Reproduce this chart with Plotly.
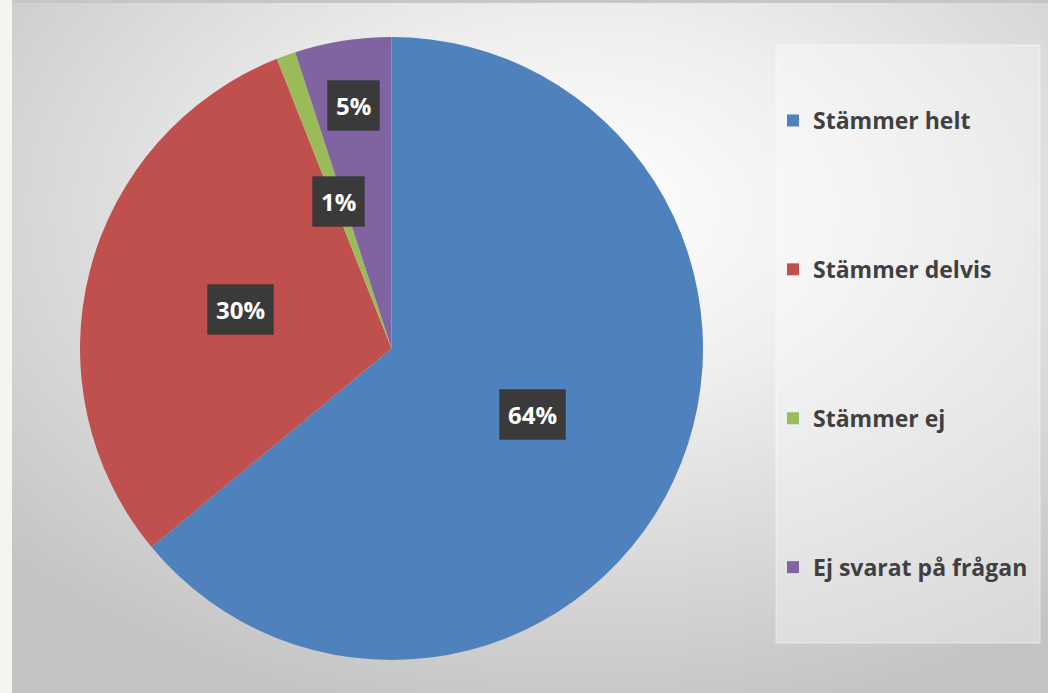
import base64
import math
import plotly.graph_objects as go

# ---- data ----
categories = ["Stämmer helt", "Stämmer delvis", "Stämmer ej", "Ej svarat på frågan"]
values = [64, 30, 1, 5]
slice_colors = ["#4F81BD", "#C0504D", "#9BBB59", "#8064A2"]

# ---- style / layout constants ----
W, H = 1048, 693
PIE_X = [80 / W, 703 / W]
PIE_Y = [33 / H, 656 / H]
label_radius_frac = [0.5, 0.5, 0.5, 0.79]
FONT = "Open Sans"

fig = go.Figure()

fig.add_trace(go.Pie(
    labels=categories,
    values=values,
    marker=dict(colors=slice_colors, line=dict(width=0)),
    sort=False,
    direction="clockwise",
    rotation=0,
    textinfo="none",
    hoverinfo="label+percent",
    showlegend=False,
    domain=dict(x=PIE_X, y=PIE_Y),
))

# legend entries (one per category, legend-only)
for name, col in zip(categories, slice_colors):
    fig.add_trace(go.Scatter(
        x=[None], y=[None], mode="markers", name=name,
        marker=dict(symbol="square", size=16, color=col),
        legendgroup=name, showlegend=True,
    ))

# data labels placed from the pie geometry
cx = (PIE_X[0] + PIE_X[1]) / 2 * W
cy = (1 - (PIE_Y[0] + PIE_Y[1]) / 2) * H
R = (PIE_X[1] - PIE_X[0]) * W / 2
total = sum(values)
cum = 0
annotations = []
for v, f in zip(values, label_radius_frac):
    mid = (cum + v / 2) / total * 2 * math.pi
    cum += v
    px = cx + f * R * math.sin(mid)
    py = cy - f * R * math.cos(mid)
    txt = f"{round(v / total * 100)}%"
    annotations.append(dict(
        x=px / W, y=1 - py / H, xref="paper", yref="paper", text=txt,
        xanchor="center", yanchor="middle",
        showarrow=False,
        font=dict(family=FONT, size=24, color="white", weight="bold"),
        bgcolor="#3a3a3a", borderpad=8,
        bordercolor="rgba(0,0,0,0.15)", borderwidth=1,
    ))

svg = (
    "<svg xmlns='http://www.w3.org/2000/svg' width='1036' height='690' "
    "viewBox='0 0 1036 690' preserveAspectRatio='none'>"
    "<defs><radialGradient id='g' cx='0.55' cy='0.3' r='0.75'>"
    "<stop offset='0' stop-color='#ffffff'/>"
    "<stop offset='0.35' stop-color='#efefef'/>"
    "<stop offset='1' stop-color='#c4c4c4'/>"
    "</radialGradient></defs>"
    "<rect width='100%' height='100%' fill='url(#g)'/></svg>"
)
uri = "data:image/svg+xml;base64," + base64.b64encode(svg.encode()).decode()

fig.update_layout(
    width=W, height=H,
    margin=dict(l=0, r=0, t=0, b=0),
    paper_bgcolor="#f5f4f0",
    plot_bgcolor="rgba(0,0,0,0)",
    xaxis=dict(visible=False),
    yaxis=dict(visible=False),
    images=[dict(source=uri, xref="paper", yref="paper",
                 x=12 / W, y=1 - 3 / H, sizex=1 - 12 / W, sizey=1 - 3 / H,
                 xanchor="left", yanchor="top", sizing="stretch", layer="below")],
    shapes=[
        dict(type="rect", xref="paper", yref="paper", x0=12 / W, x1=1, y0=1 - 3 / H, y1=1,
             fillcolor="#c6c6c6", line=dict(width=0), layer="below"),
        dict(type="rect", xref="paper", yref="paper", x0=776 / W, x1=1040 / W,
             y0=1 - 643 / H, y1=1 - 45 / H,
             fillcolor="rgba(255,255,255,0.35)", line=dict(color="rgba(255,255,255,0.5)", width=1),
             layer="below"),
    ],
    legend=dict(
        x=773 / W, y=1 - 99 / H, xanchor="left", yanchor="top",
        bgcolor="rgba(0,0,0,0)", borderwidth=0,
        font=dict(family=FONT, size=23, color="#404040", weight="bold"),
        tracegroupgap=116, itemsizing="constant",
    ),
    annotations=annotations,
    hovermode=False,
)

fig.write_html("out.html", config={"displayModeBar": False},
               post_script="document.body.style.margin='0px';")
